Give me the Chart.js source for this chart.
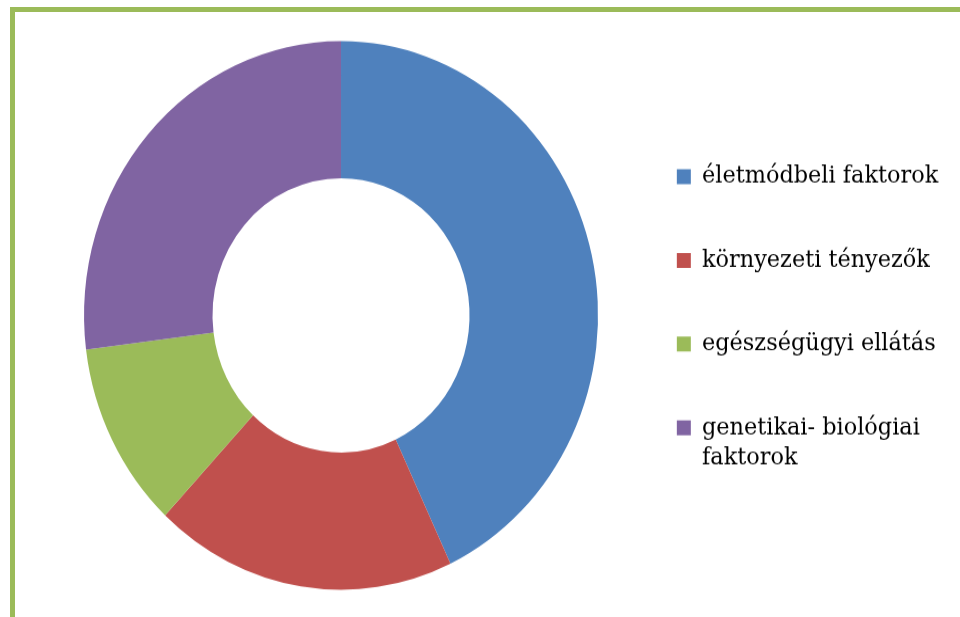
<!DOCTYPE html>
<html><head><meta charset="utf-8">
<script src="https://cdn.jsdelivr.net/npm/chart.js@4.4.1/dist/chart.umd.min.js"></script>
<style>
html,body{margin:0;padding:0;background:#fff;overflow:hidden;width:960px;height:617px;}
#frame{position:absolute;left:10px;top:7px;width:1000px;height:700px;border-left:5px solid #9BBB59;border-top:5px solid #9BBB59;box-sizing:border-box;}
#wrap{position:absolute;left:0;top:0;width:960px;height:578px;transform:scaleY(1.0675);transform-origin:0 0;}
</style></head>
<body>
<div id="frame"></div>
<div id="wrap"><canvas id="c" width="960" height="578"></canvas></div>
<script>
const categories = ['életmódbeli faktorok', 'környezeti tényezők', 'egészségügyi ellátás', ['genetikai- biológiai', 'faktorok']];
const values = [43, 19, 11, 27];
const colors = ['#4F81BD', '#C0504D', '#9BBB59', '#8064A2'];

new Chart(document.getElementById('c'), {
  type: 'doughnut',
  data: {
    labels: categories,
    datasets: [{ data: values, backgroundColor: colors, borderWidth: 0, hoverOffset: 0 }]
  },
  options: {
    responsive: false,
    devicePixelRatio: 1,
    animation: false,
    cutout: '50%',
    layout: { padding: { left: 61.2, top: 38.4, bottom: 25.6, right: 11.8 } },
    plugins: {
      tooltip: { enabled: false },
      legend: {
        position: 'right',
        align: 'center',
        title: { display: true, text: '', padding: { top: 8, bottom: 0 }, font: { size: 1, lineHeight: 1 } },
        labels: {
          boxWidth: 14,
          boxHeight: 14,
          padding: 56,
          color: '#000',
          font: { family: '"DejaVu Serif", serif', size: 22.4, lineHeight: 1.25 }
        }
      }
    }
  }
});
</script>
</body></html>
